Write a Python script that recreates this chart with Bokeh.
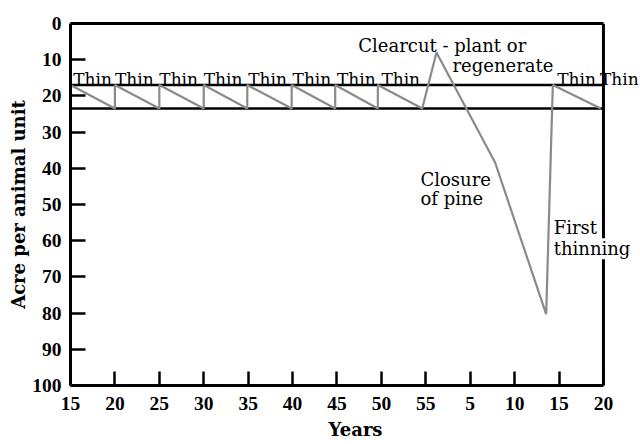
from bokeh.plotting import figure
from bokeh.models import Range1d, FixedTicker, Label, LinearAxis
from bokeh.embed import file_html
from bokeh.resources import INLINE

# ---- data ----
x_tick_positions = [15, 20, 25, 30, 35, 40, 45, 50, 55, 60, 65, 70, 75]
x_tick_labels = ["15", "20", "25", "30", "35", "40", "45", "50", "55", "5", "10", "15", "20"]
y_ticks = [0, 10, 20, 30, 40, 50, 60, 70, 80, 90, 100]

line_x = [15, 20, 20, 25, 25, 30, 30, 34.9, 34.9, 39.9, 39.9, 44.8, 44.8,
          49.6, 49.6, 54.6, 56.2, 62.8, 68.55, 69.3, 74.7]
line_y = [17, 23.5, 17, 23.5, 17, 23.5, 17, 23.5, 17, 23.5, 17, 23.5, 17,
          23.5, 17, 23.5, 8, 38.4, 80.3, 17, 23.5]

band_levels = [17, 23.5]

thin_x = [15.3, 20, 25, 30, 35, 40, 45, 50, 69.8, 74.6]
thin_y = 15.3

notes = [
    ("Clearcut - plant or", 47.4, 6.1, False),
    ("regenerate", 58.0, 11.7, False),
    ("Closure", 54.4, 43.0, False),
    ("of pine", 54.4, 48.3, False),
    ("First", 69.4, 56.3, False),
    ("thinning", 69.4, 62.2, True),
]

SERIF = "DejaVu Serif"
TICKFONT = "Liberation Serif"

x_lo, x_hi = x_tick_positions[0], x_tick_positions[-1]
y_lo, y_hi = y_ticks[0], y_ticks[-1]
# frame is widened to the canvas edge so right-hand texts are not clipped
x_view_end = x_hi + 4.17

p = figure(width=640, height=444, output_backend="svg", toolbar_location=None,
           x_range=Range1d(x_lo, x_view_end), y_range=Range1d(y_hi, y_lo),
           min_border_left=70, min_border_right=0, min_border_top=23,
           min_border_bottom=59)
p.grid.visible = False
p.outline_line_color = None
p.background_fill_color = "white"
p.border_fill_color = "white"

# right side of the box
p.line(x=[x_hi, x_hi], y=[y_lo, y_hi], line_color="black", line_width=3)

# horizontal band lines
p.segment(x0=[x_lo] * len(band_levels), x1=[x_hi] * len(band_levels),
          y0=band_levels, y1=band_levels, line_color="black", line_width=2.5)

p.line(line_x, line_y, line_color="#8a8a8a", line_width=2.2)

for i, xv in enumerate(thin_x):
    lab = Label(x=xv, y=thin_y, text="Thin", text_font=SERIF,
                text_font_size="17px", text_align="left",
                text_baseline="alphabetic", text_color="black")
    p.add_layout(lab)

for txt, xv, yv, bg in notes:
    lab = Label(x=xv, y=yv, text=txt, text_font=SERIF, text_font_size="18px",
                text_align="left", text_baseline="alphabetic", text_color="black")
    if bg:
        lab.background_fill_color = "white"
    p.add_layout(lab)

xa = p.xaxis[0]
xa.ticker = FixedTicker(ticks=x_tick_positions)
xa.major_label_overrides = {pos: lab for pos, lab in zip(x_tick_positions, x_tick_labels)}
xa.axis_label = "Years"
xa.bounds = (x_lo, x_hi)

ya = p.yaxis[0]
ya.ticker = FixedTicker(ticks=y_ticks)
ya.axis_label = "Acre per animal unit"
ya.bounds = (y_lo, y_hi)

for ax in (xa, ya):
    ax.axis_line_color = "black"
    ax.axis_line_width = 3
    ax.major_tick_line_color = "black"
    ax.major_tick_line_width = 2.5
    ax.major_tick_out = 0
    ax.minor_tick_line_color = None
    ax.major_label_text_font = TICKFONT
    ax.major_label_text_font_style = "bold"
    ax.major_label_text_font_size = "19.5px"
    ax.major_label_text_color = "black"
    ax.axis_label_text_font = SERIF
    ax.axis_label_text_font_style = "bold"
    ax.axis_label_text_font_size = "18px"
    ax.axis_label_text_color = "black"

xa.major_tick_in = 14
ya.major_tick_in = 15
xa.major_label_standoff = 11
ya.major_label_standoff = 9
xa.axis_label_standoff = 6
ya.axis_label_standoff = 0

# top border of the box as a bare axis line
top = LinearAxis(ticker=FixedTicker(ticks=[]), bounds=(x_lo, x_hi),
                 axis_line_color="black", axis_line_width=3,
                 major_tick_in=0, major_tick_out=0, minor_tick_line_color=None,
                 major_label_standoff=0, major_label_text_font_size="0px")
p.add_layout(top, "above")

open("out.html", "w").write(file_html(p, INLINE))
